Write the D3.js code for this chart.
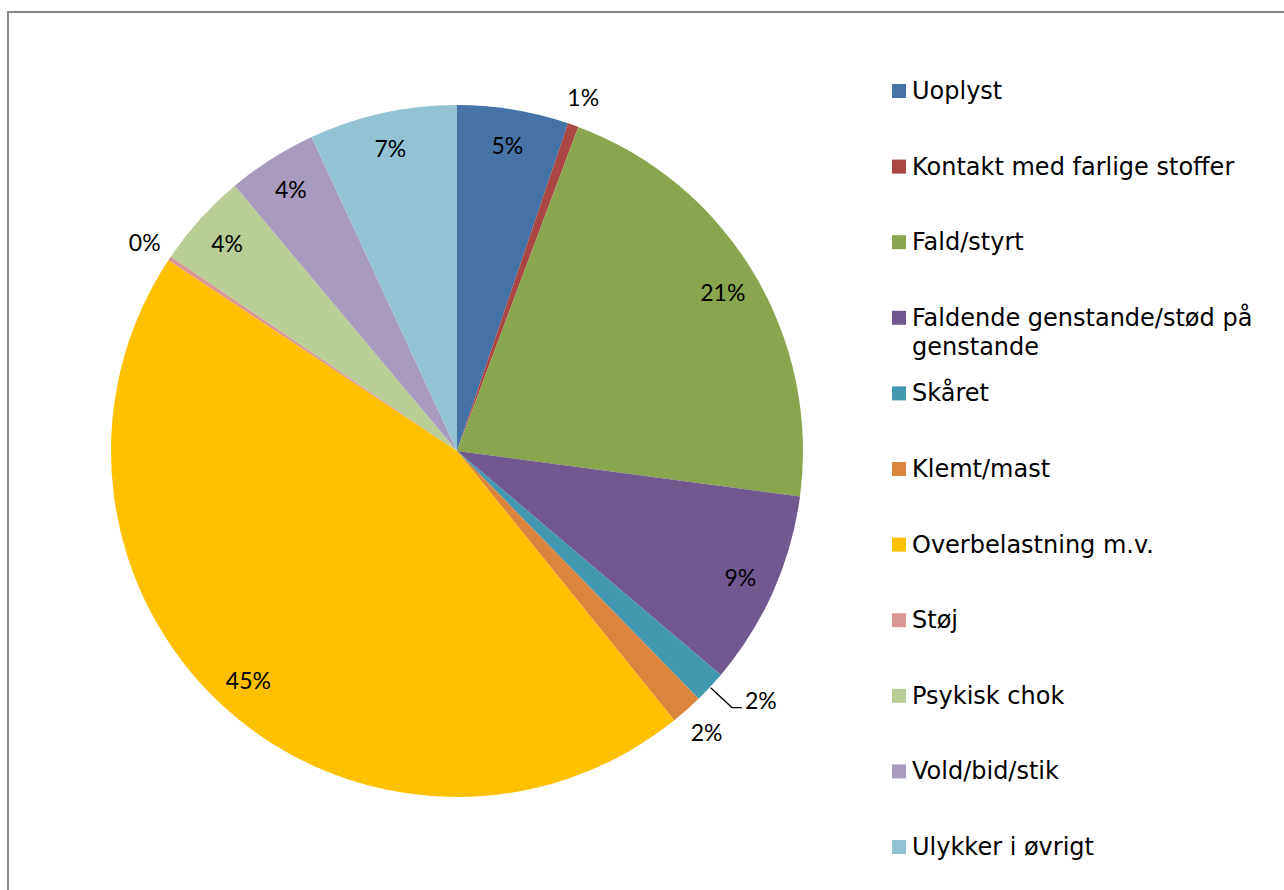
<!DOCTYPE html>
<html>
<head>
<meta charset="utf-8">
<script src="https://cdn.jsdelivr.net/npm/d3@7"></script>
<style>
  html, body { margin: 0; padding: 0; background: #ffffff; }
  svg { display: block; }
</style>
</head>
<body>
<svg id="chart" width="1284" height="890"></svg>
<script>
const categories = [
  "Uoplyst",
  "Kontakt med farlige stoffer",
  "Fald/styrt",
  "Faldende genstande/stød på genstande",
  "Skåret",
  "Klemt/mast",
  "Overbelastning m.v.",
  "Støj",
  "Psykisk chok",
  "Vold/bid/stik",
  "Ulykker i øvrigt"
];
const values = [5.2, 0.5, 21.4, 9.1, 1.5, 1.5, 45.1, 0.2, 4.4, 4.2, 6.9];
const colors = ["#4572A7", "#AA4643", "#89A54E", "#71588F", "#4198AF", "#DB843D",
                "#FFC000", "#D99694", "#B9CD96", "#A99BBD", "#93C3D3"];
const legendLines = [
  ["Uoplyst"],
  ["Kontakt med farlige stoffer"],
  ["Fald/styrt"],
  ["Faldende genstande/stød på", "genstande"],
  ["Skåret"],
  ["Klemt/mast"],
  ["Overbelastning m.v."],
  ["Støj"],
  ["Psykisk chok"],
  ["Vold/bid/stik"],
  ["Ulykker i øvrigt"]
];
// label placement mode per slice: inside, outside, or leader line
const labelMode = ["in", "out", "in", "in", "leader", "out", "in", "out", "in", "in", "in"];

const svg = d3.select("#chart");

// outer frame
svg.append("rect")
  .attr("x", 8).attr("y", 12)
  .attr("width", 1300).attr("height", 900)
  .attr("fill", "none")
  .attr("stroke", "#868686")
  .attr("stroke-width", 2);

const cx = 457, cy = 451, R = 346;
const g = svg.append("g").attr("transform", `translate(${cx},${cy})`);

const data = categories.map((c, i) => ({ name: c, value: values[i], color: colors[i], mode: labelMode[i] }));
const pie = d3.pie().value(d => d.value).sort(null);
const arcs = pie(data);
const arc = d3.arc().innerRadius(0).outerRadius(R);

g.selectAll("path.slice")
  .data(arcs)
  .enter().append("path")
  .attr("class", "slice")
  .attr("d", arc)
  .attr("fill", d => d.data.color);

const inArc = d3.arc().innerRadius(310).outerRadius(310);
const outArc = d3.arc().innerRadius(376).outerRadius(376);
const edgeArc = d3.arc().innerRadius(R + 1).outerRadius(R + 1);
const elbowArc = d3.arc().innerRadius(376).outerRadius(376);

const fmt = v => Math.round(v) + "%";
const labelFont = "Lato, 'Open Sans', sans-serif";

arcs.forEach(a => {
  if (a.data.mode === "leader") {
    const p0 = edgeArc.centroid(a);
    const p1 = elbowArc.centroid(a);
    const p2 = [p1[0] + 10, p1[1]];
    g.append("path")
      .attr("d", d3.line()([p0, p1, p2]))
      .attr("fill", "none")
      .attr("stroke", "#000")
      .attr("stroke-width", 1.3);
    g.append("text")
      .attr("x", p2[0] + 3).attr("y", p2[1] - 8)
      .attr("dominant-baseline", "central")
      .attr("text-anchor", "start")
      .attr("font-family", labelFont)
      .attr("font-size", 23)
      .attr("fill", "#000")
      .text(fmt(a.data.value));
  } else {
    const p = (a.data.mode === "in" ? inArc : outArc).centroid(a);
    g.append("text")
      .attr("x", p[0]).attr("y", p[1])
      .attr("dominant-baseline", "central")
      .attr("text-anchor", "middle")
      .attr("font-family", labelFont)
      .attr("font-size", 23)
      .attr("fill", "#000")
      .text(fmt(a.data.value));
  }
});

// legend
const ly = d3.scaleLinear().domain([0, categories.length - 1]).range([91, 847]);
const legend = svg.append("g");
data.forEach((d, i) => {
  const y = ly(i);
  legend.append("rect")
    .attr("x", 892).attr("y", y - 7)
    .attr("width", 14).attr("height", 14)
    .attr("fill", d.color);
  const t = legend.append("text")
    .attr("x", 912).attr("y", y)
    .attr("font-family", "'DejaVu Sans', Verdana, sans-serif")
    .attr("font-size", 24)
    .attr("fill", "#000");
  legendLines[i].forEach((line, j) => {
    t.append("tspan")
      .attr("x", 912)
      .attr("y", y + j * 29)
      .attr("dominant-baseline", "central")
      .text(line);
  });
});
</script>
</body>
</html>
